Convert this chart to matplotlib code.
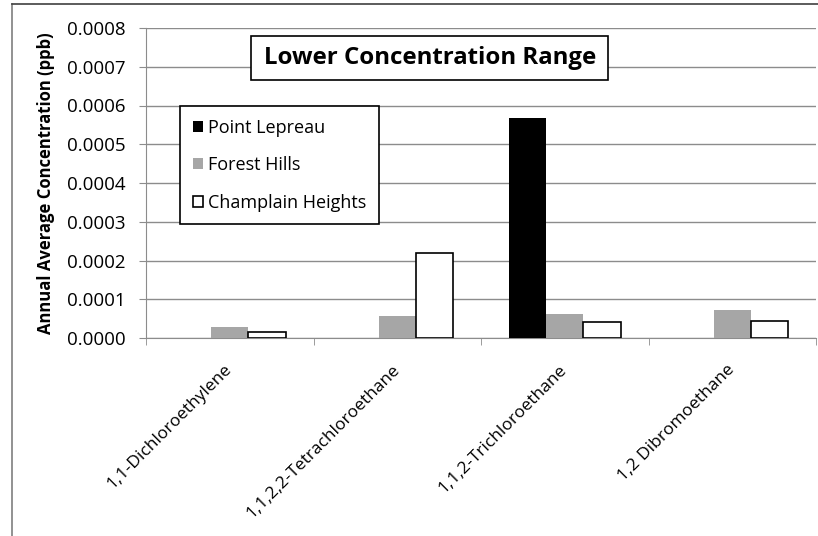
import numpy as np
import matplotlib
matplotlib.use("Agg")
import matplotlib.pyplot as plt
from matplotlib.lines import Line2D
from matplotlib.patches import Rectangle

# data (ppb)
compounds = ["1,1-Dichloroethylene", "1,1,2,2-Tetrachloroethane",
             "1,1,2-Trichloroethane", "1,2 Dibromoethane"]
point_lepreau = [0.0, 0.0, 0.000567, 0.0]
forest_hills = [0.000029, 0.000057, 0.000061, 0.000072]
champlain_heights = [0.000016, 0.00022, 0.0000405, 0.0000445]
y_ticks = [0.0000, 0.0001, 0.0002, 0.0003, 0.0004, 0.0005, 0.0006, 0.0007, 0.0008]

plt.rcParams["font.family"] = ["Open Sans", "DejaVu Sans"]

W, H = 818, 536
fig = plt.figure(figsize=(W / 100, H / 100), dpi=100)
ax = fig.add_axes([146 / W, 1 - 338 / H, (816 - 146) / W, (338 - 28) / H])

x = np.arange(len(compounds))
bw = 0.222
ax.bar(x - bw, point_lepreau, bw, color="black", edgecolor="black", lw=0, label="Point Lepreau", zorder=3)
ax.bar(x, forest_hills, bw, color="#a6a6a6", lw=0, label="Forest Hills", zorder=3)
ax.bar(x + bw, champlain_heights, bw, color="white", edgecolor="black", lw=1.2,
       label="Champlain Heights", zorder=3)

ax.set_xlim(-0.5, len(compounds) - 0.5)
ax.set_ylim(0, 0.0008)
ax.set_yticks(y_ticks)
ax.set_yticklabels([f"{v:.4f}" for v in y_ticks], fontsize=13.5)
ax.yaxis.grid(True, color="#8c8c8c", lw=1.0, zorder=0)

ax.set_xticks(x)
ax.set_xticklabels(compounds, rotation=45, ha="right", va="center", rotation_mode="anchor", fontsize=12.5)
ax.set_xticks(np.arange(len(compounds) + 1) - 0.5, minor=True)
ax.tick_params(axis="x", which="major", length=0, pad=21)
ax.tick_params(axis="x", which="minor", length=5, color="#8c8c8c", direction="out")
ax.tick_params(axis="y", length=5, color="#8c8c8c", pad=10)

for s in ["top", "right"]:
    ax.spines[s].set_visible(False)
for s in ["left", "bottom"]:
    ax.spines[s].set_color("#8c8c8c")

ax.set_ylabel("Annual Average Concentration (ppb)", fontsize=12, fontweight="bold", labelpad=8)

leg = ax.legend(loc="upper left", bbox_to_anchor=(180 / W, 1 - 106 / H), bbox_transform=fig.transFigure,
                fontsize=13, frameon=True, fancybox=False, edgecolor="black", framealpha=1,
                handlelength=0.55, handleheight=0.55, handletextpad=0.3, labelspacing=1.08,
                borderpad=0.7, borderaxespad=0)
leg.get_frame().set_linewidth(1.2)

# title box
fig.patches.append(Rectangle((251 / W, 1 - 80 / H), (608 - 251) / W, 44 / H, transform=fig.transFigure,
                             facecolor="white", edgecolor="black", lw=1.2, zorder=5))
fig.text(430 / W, 1 - 58 / H, "Lower Concentration Range", fontsize=17.3, fontweight="bold",
         ha="center", va="center", zorder=6)

# outer chart border (left and top only visible)
fig.add_artist(Line2D([12 / W, 12 / W], [0, 1 - 4 / H], color="#7f7f7f", lw=1.2))
fig.add_artist(Line2D([12 / W, 1], [1 - 4 / H, 1 - 4 / H], color="#404040", lw=1.2))

fig.savefig("out.png", dpi=100)
